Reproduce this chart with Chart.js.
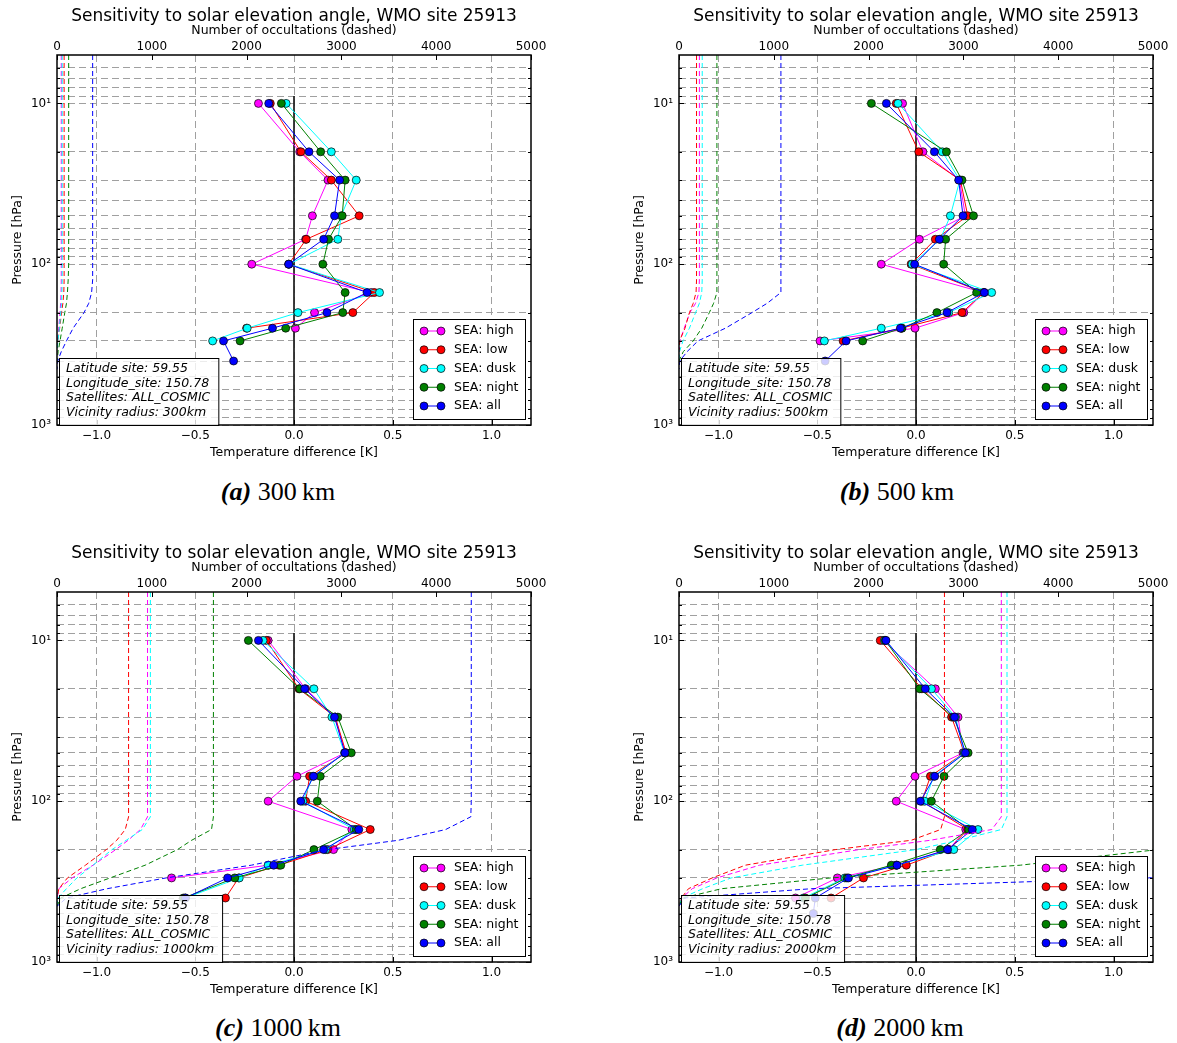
<!DOCTYPE html>
<html>
<head>
<meta charset="utf-8">
<script src="https://cdn.jsdelivr.net/npm/chart.js@4.4.0/dist/chart.umd.min.js"></script>
<style>
  body { margin: 0; background: #fff; width: 1177px; height: 1043px; position: relative; overflow: hidden; }
  .panel { position: absolute; width: 590px; height: 475px; }
  .cap { position: absolute; font-family: "Liberation Serif", "DejaVu Serif", serif; font-size: 26px; color: #000;
         transform: translate(-50%, -50%); white-space: nowrap; }
  .cap b { font-style: italic; }
</style>
</head>
<body>
<div class="panel" style="left:0px;top:0px"><canvas id="cA" width="590" height="475"></canvas></div>
<div class="panel" style="left:622px;top:0px"><canvas id="cB" width="590" height="475"></canvas></div>
<div class="panel" style="left:0px;top:537px"><canvas id="cC" width="590" height="475"></canvas></div>
<div class="panel" style="left:622px;top:537px"><canvas id="cD" width="590" height="475"></canvas></div>
<div class="cap" style="left:278px;top:492px"><b>(a)</b> 300&#8201;km</div>
<div class="cap" style="left:897px;top:492px"><b>(b)</b> 500&#8201;km</div>
<div class="cap" style="left:278px;top:1028px"><b>(c)</b> 1000&#8201;km</div>
<div class="cap" style="left:900px;top:1028px"><b>(d)</b> 2000&#8201;km</div>

<script>
// Druckniveaus und Achsen
const P_LEVELS = [10, 20, 30, 50, 70, 100, 150, 200, 250, 300, 400, 500];
const CNT_LEVELS = [5, 100, 125, 150, 175, 200, 250, 300, 350, 400, 450];
const GRID_P = [6, 7, 8, 9, 10, 20, 30, 40, 50, 60, 70, 80, 90, 100, 200, 300, 400, 500, 600, 700, 800, 900, 1000];
const T_TICKS = [-1.0, -0.5, 0.0, 0.5, 1.0];
const N_TICKS = [0, 1000, 2000, 3000, 4000, 5000];
const SERIES = ['SEA: high', 'SEA: low', 'SEA: dusk', 'SEA: night', 'SEA: all'];
const COLORS = ['#ff00ff', '#ff0000', '#00ffff', '#008000', '#0000ff'];
const RADII = ['300km', '500km', '1000km', '2000km'];

// Temperaturdifferenz [K] je Serie (high, low, dusk, night, all)
const TEMP_A = [
    [-0.18, 0.029, 0.172, 0.093, 0.059, -0.214, 0.391, 0.104, 0.007, null, null, null],
    [-0.12, 0.035, 0.189, 0.33, 0.062, -0.027, 0.407, 0.298, -0.24, null, null, null],
    [-0.04, 0.189, 0.315, 0.239, 0.222, -0.025, 0.433, 0.020, -0.237, -0.412, null, null],
    [-0.064, 0.135, 0.259, 0.244, 0.175, 0.146, 0.259, 0.247, -0.042, -0.273, null, null],
    [-0.128, 0.076, 0.231, 0.205, 0.150, -0.027, 0.370, 0.167, -0.109, -0.357, -0.306, null]
];
const TEMP_B = [
    [-0.068, 0.035, 0.22, 0.25, 0.017, -0.176, 0.343, 0.242, -0.005, -0.486, null, null],
    [-0.100, 0.014, 0.225, 0.262, 0.098, -0.025, 0.343, 0.233, -0.074, -0.369, null, null],
    [-0.091, 0.133, 0.222, 0.174, 0.123, -0.02, 0.383, 0.166, -0.176, -0.464, null, null],
    [-0.226, 0.154, 0.233, 0.291, 0.150, 0.140, 0.307, 0.106, -0.071, -0.270, null, null],
    [-0.150, 0.093, 0.216, 0.238, 0.118, -0.007, 0.346, 0.157, -0.079, -0.354, -0.46, null]
];
const TEMP_C = [
    [-0.131, 0.059, 0.209, 0.259, 0.015, -0.131, 0.293, 0.200, -0.13, -0.62, null, null],
    [-0.140, 0.025, 0.209, 0.264, 0.079, 0.059, 0.386, 0.17, -0.076, -0.28, -0.347, null],
    [-0.157, 0.101, 0.192, 0.256, 0.096, 0.045, 0.306, 0.16, -0.131, -0.277, -0.55, null],
    [-0.231, 0.029, 0.222, 0.29, 0.133, 0.118, 0.315, 0.101, -0.067, -0.30, -0.56, null],
    [-0.180, 0.054, 0.205, 0.258, 0.099, 0.034, 0.328, 0.150, -0.103, -0.336, -0.55, null]
];
const TEMP_D = [
    [-0.167, 0.098, 0.213, 0.238, -0.005, -0.10, 0.252, 0.166, -0.10, -0.398, -0.61, null],
    [-0.181, 0.03, 0.18, 0.245, 0.073, 0.03, 0.262, 0.166, -0.049, -0.266, -0.43, null],
    [-0.160, 0.078, 0.20, 0.245, 0.090, 0.044, 0.314, 0.191, -0.10, -0.36, -0.57, null],
    [-0.155, 0.019, 0.19, 0.264, 0.142, 0.078, 0.267, 0.123, -0.125, -0.35, -0.56, null],
    [-0.152, 0.047, 0.195, 0.25, 0.095, 0.022, 0.285, 0.160, -0.096, -0.342, -0.51, -0.52]
];

// Anzahl Okkultationen (gestrichelt) auf CNT_LEVELS
const COUNT_A = [
    [45, 45, 45, 43, 38, 32, 18, 5, 0, null, null],
    [75, 75, 75, 72, 62, 48, 28, 8, 0, null, null],
    [55, 55, 55, 52, 47, 40, 25, 10, 0, null, null],
    [123, 123, 118, 110, 100, 82, 55, 32, 12, 0, null],
    [376, 376, 376, 365, 335, 285, 170, 100, 45, 8, 0]
];
const COUNT_B = [
    [215, 215, 215, 210, 175, 115, 55, 10, 0, null, null],
    [185, 185, 185, 180, 150, 110, 63, 5, 0, null, null],
    [245, 245, 245, 240, 215, 175, 110, 42, 5, 0, null],
    [400, 400, 400, 400, 365, 320, 240, 150, 45, 0, null],
    [1075, 1075, 1075, 1075, 930, 770, 490, 200, 85, 8, 0]
];
const COUNT_C = [
    [955, 955, 955, 880, 750, 620, 380, 160, 20, 0, null],
    [755, 755, 755, 720, 630, 520, 300, 110, 20, 0, null],
    [985, 985, 985, 900, 730, 580, 380, 210, 100, 10, 0],
    [1650, 1650, 1650, 1630, 1420, 1270, 930, 560, 250, 40, 0],
    [4370, 4370, 4365, 4100, 3600, 2850, 2050, 1150, 530, 100, 0]
];
const COUNT_D = [
    [3400, 3400, 3400, 3300, 2650, 1900, 850, 400, 140, 30, 0],
    [2800, 2800, 2800, 2760, 2450, 1650, 700, 350, 100, 25, 0],
    [3460, 3460, 3460, 3400, 2950, 2500, 1300, 550, 250, 30, 0],
    [null, null, null, null, 5800, 5050, 3600, 1600, 450, 40, 0],
    [null, null, null, null, null, null, 6500, 4950, 1400, 60, 0]
];

const SUP = {10: '10\u00b9', 100: '10\u00b2', 1000: '10\u00b3'};
const FONT = '"DejaVu Sans", Verdana, sans-serif';
const GRID_COL = '#a0a0a0';

function toPoints(levels, vals) {
    return levels.map((p, i) => vals[i] == null ? null : {x: vals[i], y: p}).filter(Boolean);
}

// Titel, Rahmen, Ticks, Legende und Infobox
const decoPlugin = {
    id: 'deco',
    afterDatasetsDraw(chart) {
        const ctx = chart.ctx, ca = chart.chartArea;
        const yS = chart.scales.y, xS = chart.scales.x, x2 = chart.scales.x2;
        ctx.save();
        ctx.strokeStyle = '#000';
        ctx.lineWidth = 1;
        ctx.beginPath();
        GRID_P.forEach(p => {
            const y = Math.round(yS.getPixelForValue(p)) + 0.5;
            const len = SUP[p] ? 5 : 3;
            ctx.moveTo(ca.left, y); ctx.lineTo(ca.left + len, y);
            ctx.moveTo(ca.right, y); ctx.lineTo(ca.right - len, y);
        });
        T_TICKS.forEach(t => {
            const x = Math.round(xS.getPixelForValue(t)) + 0.5;
            ctx.moveTo(x, ca.bottom); ctx.lineTo(x, ca.bottom - 5);
        });
        N_TICKS.forEach(n => {
            const x = Math.round(x2.getPixelForValue(n)) + 0.5;
            ctx.moveTo(x, ca.top); ctx.lineTo(x, ca.top + 5);
        });
        ctx.stroke();
        ctx.lineWidth = 1.5;
        ctx.strokeRect(ca.left, ca.top, ca.right - ca.left, ca.bottom - ca.top);
        ctx.restore();
    },
    afterDraw(chart, args, opts) {
        const ctx = chart.ctx, ca = chart.chartArea;
        ctx.save();
        // Haupttitel
        ctx.fillStyle = '#000';
        ctx.font = '17px ' + FONT;
        ctx.textAlign = 'center';
        ctx.textBaseline = 'middle';
        ctx.fillText('Sensitivity to solar elevation angle, WMO site 25913', (ca.left + ca.right) / 2, 16.5);

        // Infobox unten links
        const lines = ['Latitude site: 59.55', 'Longitude_site: 150.78', 'Satellites: ALL_COSMIC', 'Vicinity radius: ' + opts.radius];
        ctx.font = 'italic 12.5px ' + FONT;
        const tw = Math.max(...lines.map(l => ctx.measureText(l).width));
        const bx = ca.left + 2, by = ca.top + 303;
        ctx.fillStyle = 'rgba(255,255,255,0.8)';
        ctx.fillRect(bx, by, tw + 15, ca.bottom - by);
        ctx.strokeStyle = '#000';
        ctx.lineWidth = 1;
        ctx.strokeRect(bx + 0.5, by + 0.5, tw + 15, ca.bottom - by);
        ctx.fillStyle = '#000';
        ctx.textAlign = 'left';
        lines.forEach((l, i) => ctx.fillText(l, bx + 7, by + 11 + i * 14.5));

        // Legende unten rechts
        const lx = ca.left + 356, ly = ca.top + 264;
        ctx.fillStyle = '#fff';
        ctx.fillRect(lx, ly, 112, 100);
        ctx.strokeRect(lx + 0.5, ly + 0.5, 112, 100);
        ctx.font = '12.5px ' + FONT;
        SERIES.forEach((s, i) => {
            const y = ly + 12 + i * 18.75;
            ctx.strokeStyle = COLORS[i];
            ctx.lineWidth = 1;
            ctx.beginPath();
            ctx.moveTo(lx + 11, y); ctx.lineTo(lx + 28, y);
            ctx.stroke();
            [11, 28].forEach(dx => {
                ctx.beginPath();
                ctx.arc(lx + dx, y, 4, 0, Math.PI * 2);
                ctx.fillStyle = COLORS[i];
                ctx.fill();
                ctx.strokeStyle = '#000';
                ctx.lineWidth = 0.7;
                ctx.stroke();
            });
            ctx.fillStyle = '#000';
            ctx.fillText(s, lx + 41, y);
        });
        ctx.restore();
    }
};

function makePanel(canvasId, temps, counts, radius) {
    const datasets = [];
    // Nulllinie
    datasets.push({
        data: [{x: 0, y: 9}, {x: 0, y: 1000}],
        xAxisID: 'x', yAxisID: 'y', showLine: true,
        borderColor: '#222', borderWidth: 1, pointRadius: 0, order: 30
    });
    temps.forEach((vals, i) => {
        datasets.push({
            label: SERIES[i],
            data: toPoints(P_LEVELS, vals),
            xAxisID: 'x', yAxisID: 'y', showLine: true,
            borderColor: COLORS[i], borderWidth: 1,
            pointRadius: 4, pointBackgroundColor: COLORS[i],
            pointBorderColor: '#000', pointBorderWidth: 0.7,
            order: 20 - i
        });
    });
    counts.forEach((vals, i) => {
        datasets.push({
            data: toPoints(CNT_LEVELS, vals),
            xAxisID: 'x2', yAxisID: 'y', showLine: true,
            borderColor: COLORS[i], borderWidth: 1, borderDash: [5, 3],
            pointRadius: 0, order: 10 - i
        });
    });

    const tickFont = {family: FONT, size: 12};
    const labFont = {family: FONT, size: 12.5};
    new Chart(document.getElementById(canvasId), {
        type: 'scatter',
        data: {datasets},
        options: {
            responsive: false,
            animation: false,
            events: [],
            layout: {padding: {left: 0, top: 0, right: 59, bottom: 10}},
            plugins: {
                legend: {display: false},
                tooltip: {enabled: false},
                deco: {radius}
            },
            scales: {
                x: {
                    type: 'linear', position: 'bottom', min: -1.2, max: 1.2,
                    afterBuildTicks: s => { s.ticks = T_TICKS.map(v => ({value: v})); },
                    ticks: {
                        callback: v => v.toFixed(1).replace('-', '\u2212'),
                        font: tickFont, color: '#000', padding: 4, autoSkip: false, maxRotation: 0
                    },
                    grid: {color: GRID_COL, drawTicks: false},
                    border: {display: false, dash: [7, 4]},
                    title: {display: true, text: 'Temperature difference [K]', font: labFont, color: '#000',
                            padding: {top: 0, bottom: 5}},
                    afterFit: s => { s.height = 40; s.paddingLeft = 0; s.paddingRight = 0; }
                },
                x2: {
                    type: 'linear', position: 'top', min: 0, max: 5000,
                    afterBuildTicks: s => { s.ticks = N_TICKS.map(v => ({value: v})); },
                    ticks: {callback: v => String(v), font: tickFont, color: '#000', padding: 1, autoSkip: false, maxRotation: 0},
                    grid: {display: false, drawTicks: false},
                    border: {display: false},
                    title: {display: true, text: 'Number of occultations (dashed)', font: labFont, color: '#000',
                            padding: {top: 23, bottom: 0}},
                    afterFit: s => { s.height = 55; s.paddingLeft = 0; s.paddingRight = 0; }
                },
                y: {
                    type: 'logarithmic', position: 'left', reverse: true, min: 5, max: 1000,
                    afterBuildTicks: s => { s.ticks = GRID_P.map(v => ({value: v})); },
                    ticks: {callback: v => SUP[v] || '', font: tickFont, color: '#000', padding: 6, autoSkip: false},
                    grid: {color: GRID_COL, drawTicks: false},
                    border: {display: false, dash: [7, 4]},
                    title: {display: true, text: 'Pressure [hPa]', font: labFont, color: '#000',
                            padding: {top: 10, bottom: 0}},
                    afterFit: s => { s.width = 57; s.paddingTop = 0; s.paddingBottom = 0; }
                }
            }
        },
        plugins: [decoPlugin]
    });
}

makePanel('cA', TEMP_A, COUNT_A, RADII[0]);
makePanel('cB', TEMP_B, COUNT_B, RADII[1]);
makePanel('cC', TEMP_C, COUNT_C, RADII[2]);
makePanel('cD', TEMP_D, COUNT_D, RADII[3]);
</script>
</body>
</html>
